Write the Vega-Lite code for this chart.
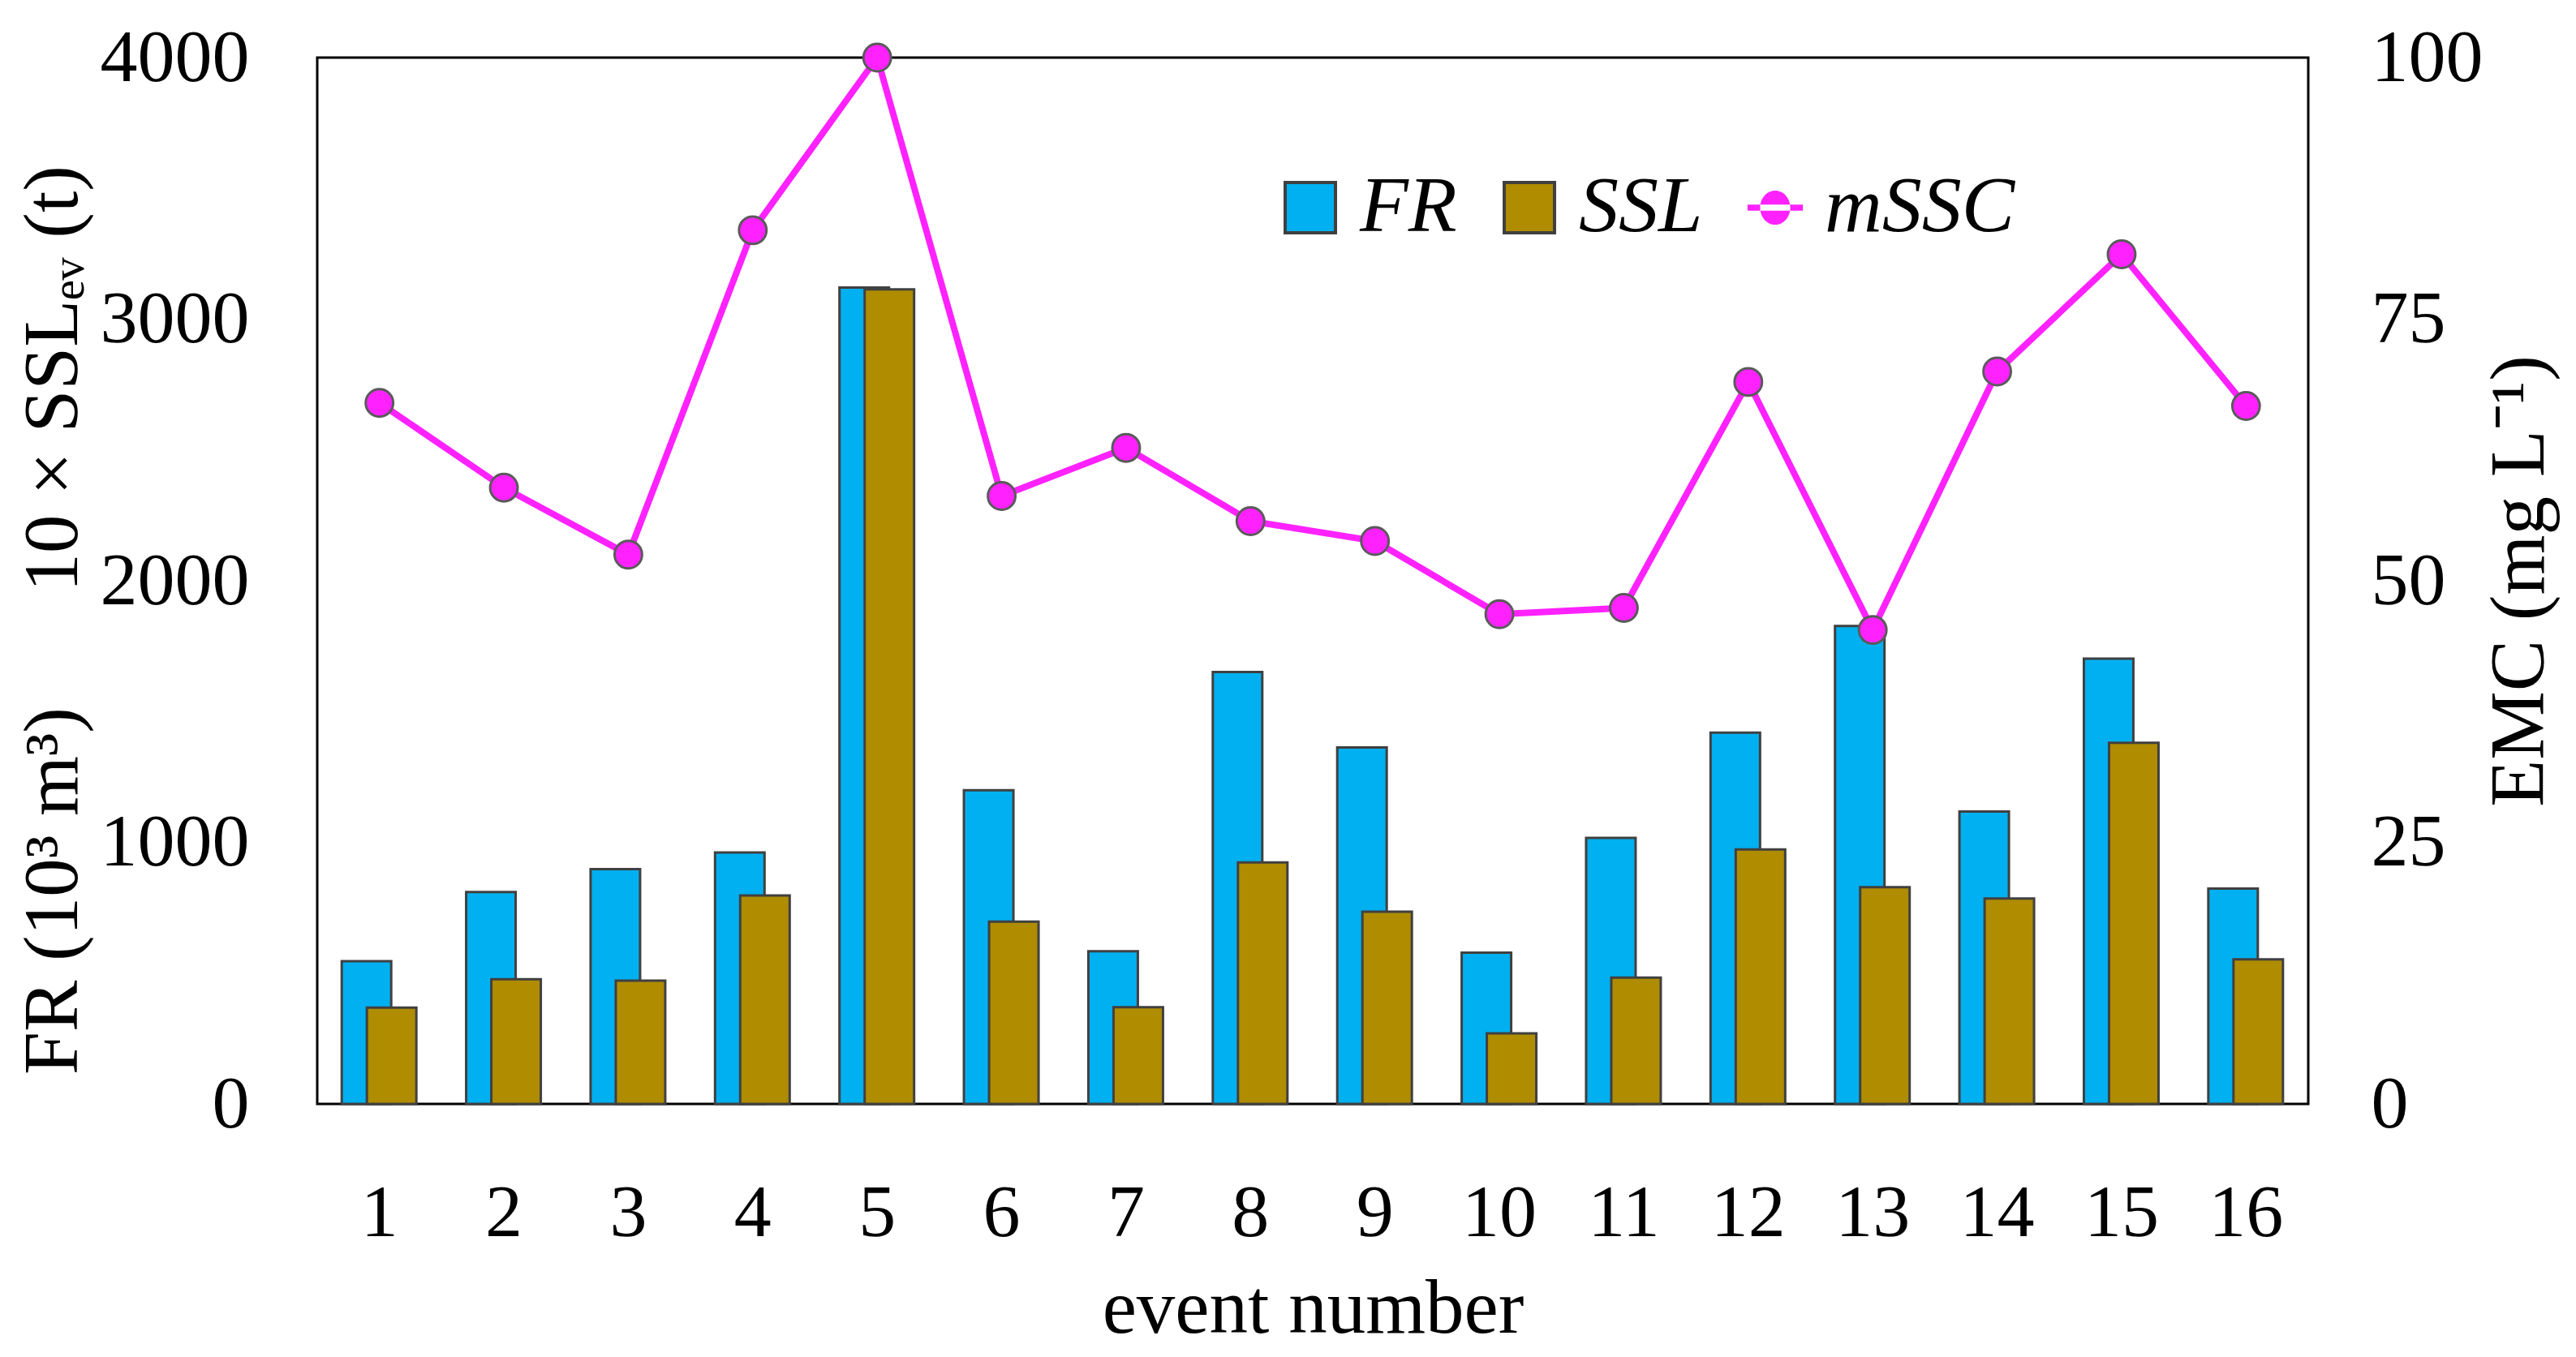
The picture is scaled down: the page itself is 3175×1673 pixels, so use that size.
{
  "$schema": "https://vega.github.io/schema/vega-lite/v6.json",
  "width": 2454,
  "height": 1290,
  "autosize": {"type": "none"},
  "padding": {"left": 391, "top": 71, "right": 330, "bottom": 312},
  "background": "white",
  "config": {
    "font": "Liberation Serif",
    "view": {"stroke": "black", "strokeWidth": 3},
    "axis": {
      "grid": false,
      "ticks": false,
      "tickSize": 0,
      "domain": false,
      "labelFont": "Liberation Serif",
      "labelFontSize": 92,
      "labelColor": "black",
      "labelLimit": 0,
      "titleFont": "Liberation Serif",
      "titleFontSize": 95,
      "titleFontWeight": "normal",
      "titleColor": "black",
      "titleLimit": 0
    }
  },
  "data": {
    "values": [
      {"event": 1, "FR": 546, "SSL": 368, "mSSC": 67.0},
      {"event": 2, "FR": 810, "SSL": 477, "mSSC": 58.9},
      {"event": 3, "FR": 898, "SSL": 471, "mSSC": 52.5},
      {"event": 4, "FR": 961, "SSL": 797, "mSSC": 83.5},
      {"event": 5, "FR": 3121, "SSL": 3114, "mSSC": 100},
      {"event": 6, "FR": 1199, "SSL": 697, "mSSC": 58.1},
      {"event": 7, "FR": 584, "SSL": 370, "mSSC": 62.7},
      {"event": 8, "FR": 1651, "SSL": 923, "mSSC": 55.7},
      {"event": 9, "FR": 1363, "SSL": 735, "mSSC": 53.8},
      {"event": 10, "FR": 578, "SSL": 270, "mSSC": 46.8},
      {"event": 11, "FR": 1017, "SSL": 483, "mSSC": 47.4},
      {"event": 12, "FR": 1419, "SSL": 973, "mSSC": 69.0},
      {"event": 13, "FR": 1827, "SSL": 829, "mSSC": 45.3},
      {"event": 14, "FR": 1118, "SSL": 785, "mSSC": 70.0},
      {"event": 15, "FR": 1702, "SSL": 1381, "mSSC": 81.2},
      {"event": 16, "FR": 823, "SSL": 553, "mSSC": 66.7}
    ]
  },
  "encoding": {
    "x": {
      "field": "event",
      "type": "ordinal",
      "scale": {"paddingInner": 0, "paddingOuter": 0},
      "axis": {"labelAngle": 0, "labelPadding": 89, "title": "event number", "titlePadding": 26}
    }
  },
  "layer": [
    {
      "layer": [
        {
          "mark": {"type": "bar", "width": 61, "xOffset": -16, "stroke": "#404040", "strokeWidth": 3},
          "encoding": {
            "y": {
              "field": "FR",
              "type": "quantitative",
              "scale": {"domain": [0, 4000], "nice": false},
              "axis": {
                "values": [0, 1000, 2000, 3000, 4000],
                "format": "d",
                "labelPadding": 84,
                "title": "FR (10³ m³)\u00a0\u00a0\u00a0\u00a0\u00a0\u00a010 × SSLₑᵥ (t)",
                "titleAngle": 270,
                "titleX": -326,
                "titleY": 693,
                "titleAlign": "center",
                "titleBaseline": "middle"
              }
            },
            "color": {
              "datum": "FR",
              "scale": {"domain": ["FR", "SSL", "mSSC"], "range": ["#00B0F0", "#AF8C00", "#FF22FF"]},
              "legend": {
                "orient": "none",
                "legendX": 1175,
                "legendY": 136,
                "direction": "horizontal",
                "title": null,
                "padding": 0,
                "symbolType": "square",
                "symbolSize": 3844,
                "symbolStrokeColor": "#404040",
                "symbolStrokeWidth": 4,
                "symbolOpacity": 1,
                "labelFont": "Liberation Serif",
                "labelFontSize": 98,
                "labelFontStyle": "italic",
                "labelColor": "black",
                "labelOffset": 12,
                "labelLimit": 0,
                "columnPadding": 40,
                "encode": {
                  "symbols": {
                    "update": {
                      "shape": {"signal": "datum.value === 'mSSC' ? 'M-1.1,-0.12H1.1V0.12H-1.1Z M-0.6,0A0.6,0.68 0 1,0 0.6,0A0.6,0.68 0 1,0 -0.6,0Z' : 'square'"},
                      "strokeWidth": {"signal": "datum.value === 'mSSC' ? 0 : 4"}
                    }
                  }
                }
              }
            }
          }
        },
        {
          "mark": {"type": "bar", "width": 61, "xOffset": 15, "stroke": "#404040", "strokeWidth": 3},
          "encoding": {
            "y": {"field": "SSL", "type": "quantitative"},
            "color": {"datum": "SSL"}
          }
        }
      ]
    },
    {
      "layer": [
        {
          "mark": {"type": "line", "color": "#FF22FF", "strokeWidth": 8},
          "encoding": {
            "y": {
              "field": "mSSC",
              "type": "quantitative",
              "scale": {"domain": [0, 100], "nice": false},
              "axis": {
                "orient": "right",
                "values": [0, 25, 50, 75, 100],
                "labelPadding": 77,
                "title": "EMC (mg L⁻¹)",
                "titleAngle": 270,
                "titleX": 260,
                "titleY": 645,
                "titleAlign": "center",
                "titleBaseline": "middle"
              }
            }
          }
        },
        {
          "mark": {"type": "circle", "fill": "#FF22FF", "stroke": "#5A5A5A", "strokeWidth": 3, "size": 1150, "opacity": 1},
          "encoding": {
            "y": {"field": "mSSC", "type": "quantitative"}
          }
        }
      ]
    }
  ],
  "resolve": {"scale": {"y": "independent"}}
}
